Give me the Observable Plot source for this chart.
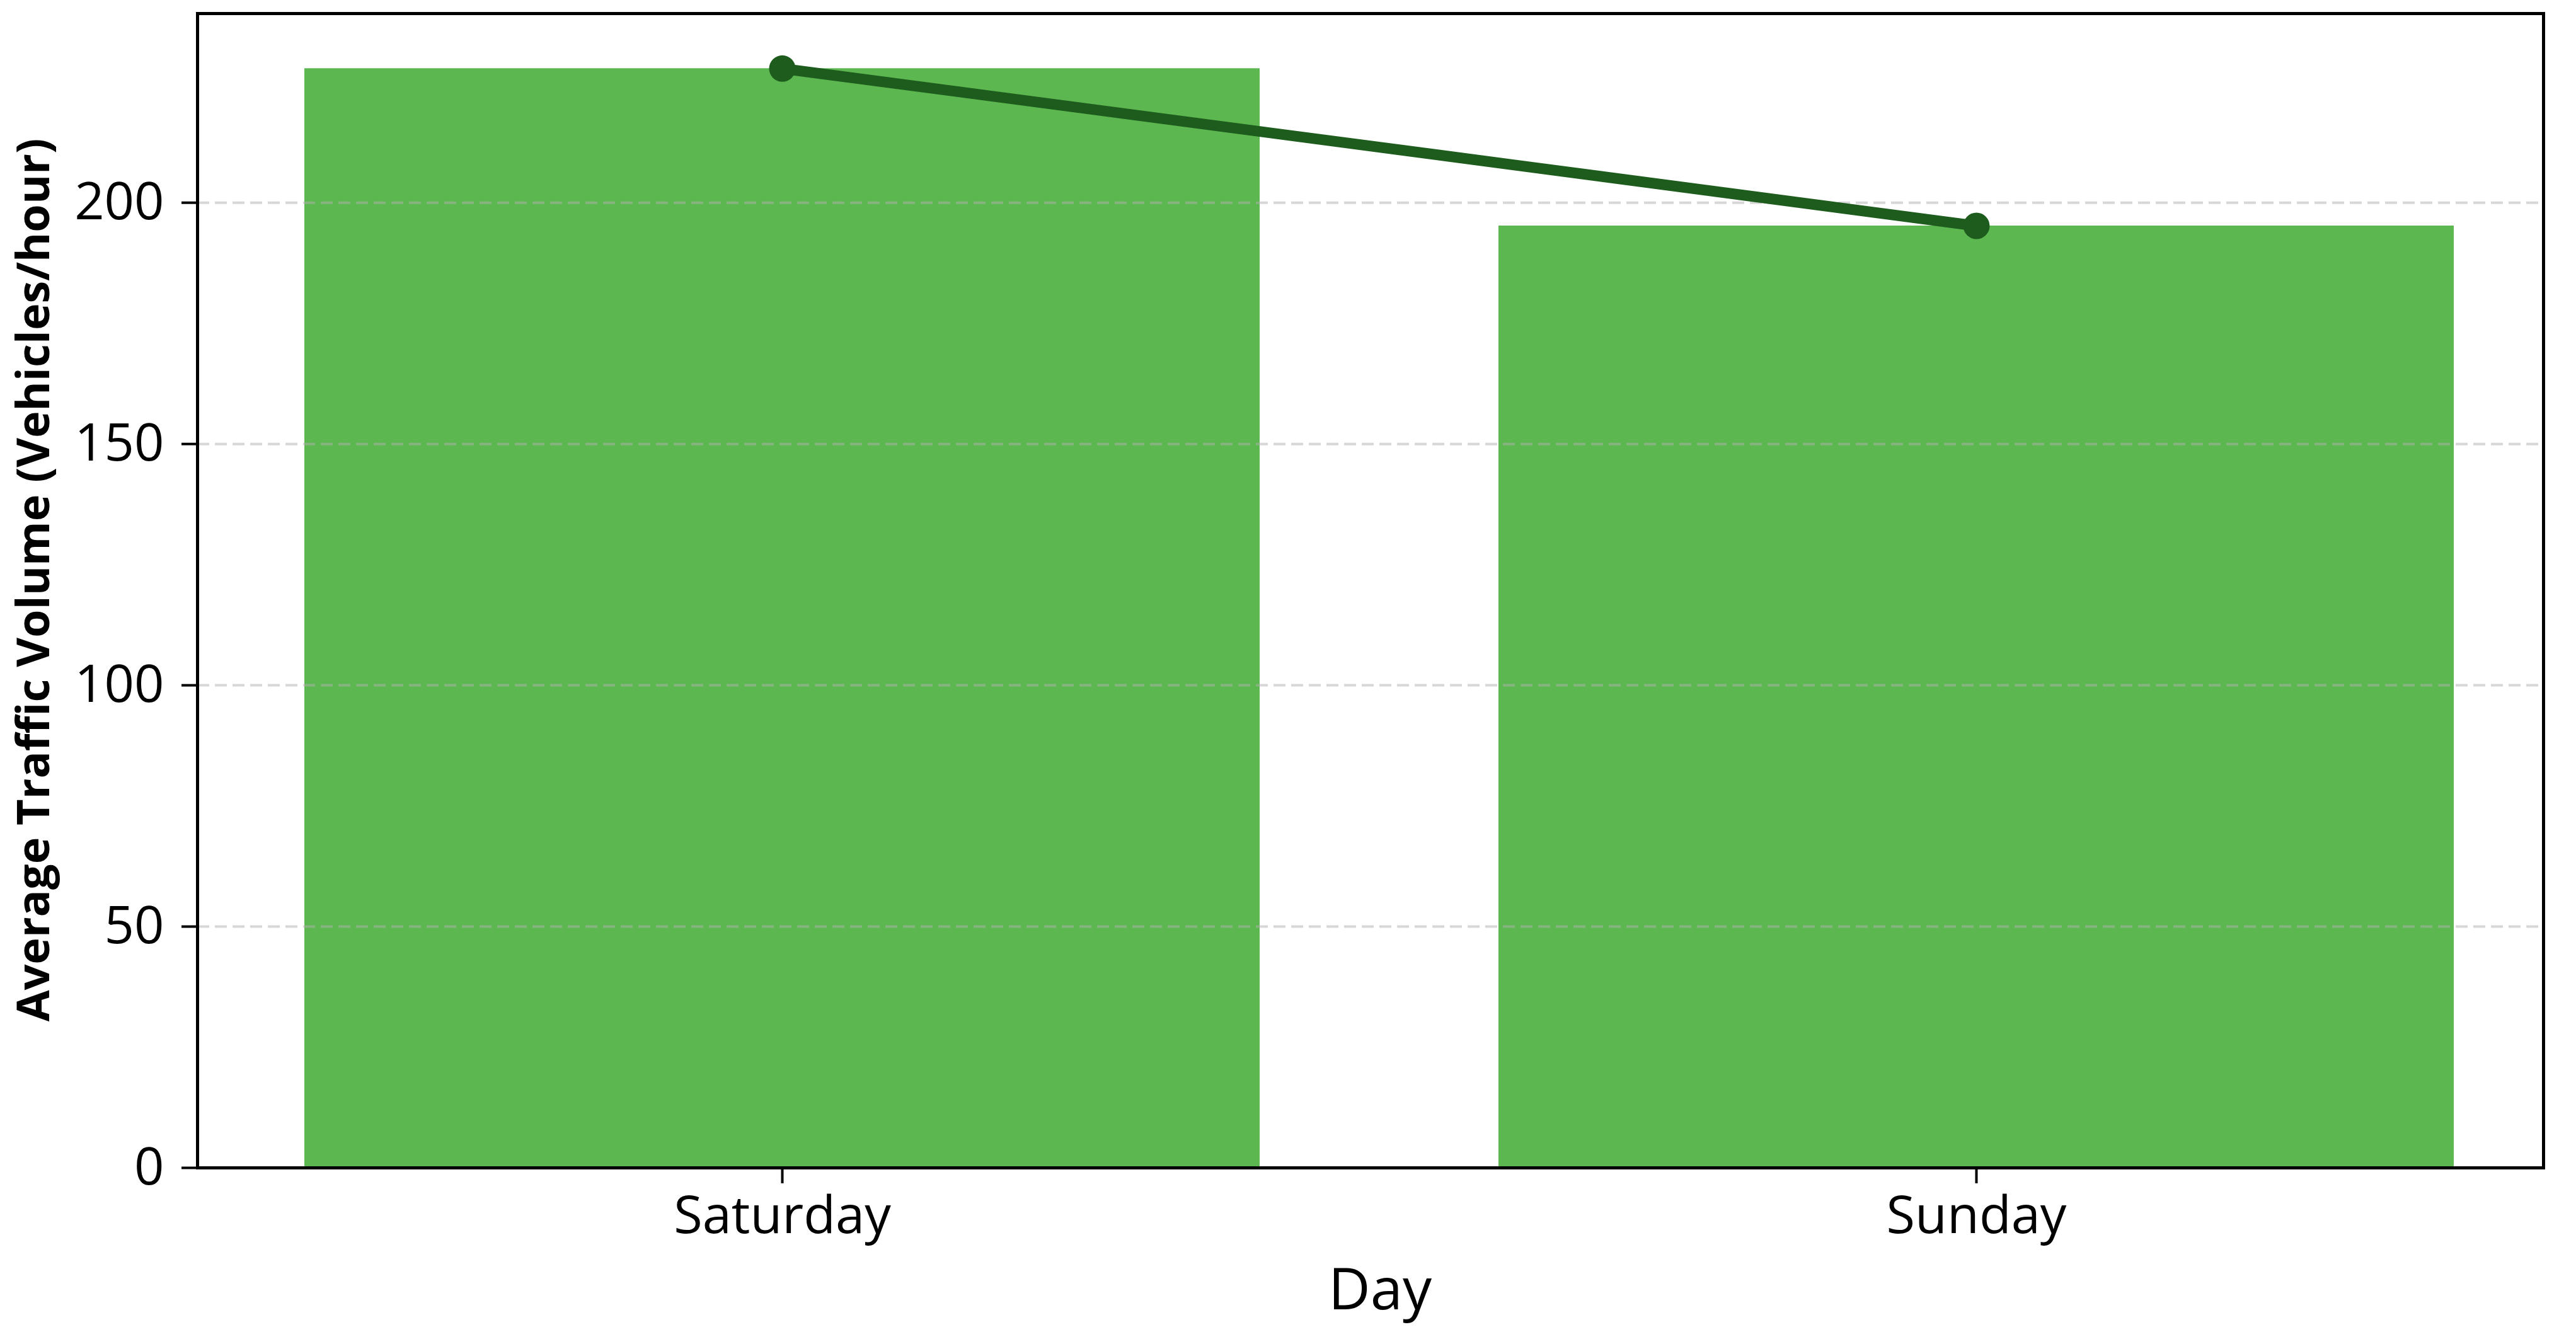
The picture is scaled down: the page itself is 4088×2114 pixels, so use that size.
<!DOCTYPE html>
<html>
<head>
<meta charset="utf-8">
<script src="https://cdn.jsdelivr.net/npm/d3@7"></script>
<script src="https://cdn.jsdelivr.net/npm/@observablehq/plot@0.6"></script>
<style>
  html, body { margin: 0; padding: 0; background: #ffffff; }
  #chart svg { display: block; }
</style>
</head>
<body>
<div id="chart"></div>
<script>
// ---- data ----
const days = ["Saturday", "Sunday"];
const volumes = [227.8, 195.2];
const yTicks = [0, 50, 100, 150, 200];
const gridTicks = [50, 100, 150, 200];
const xLabel = "Day";
const yLabel = "Average Traffic Volume (Vehicles/hour)";
const yMax = 239.2;

const data = days.map((d, i) => ({day: d, volume: volumes[i]}));

const W = 4088, H = 2114;
const mL = 313, mR = 52, mT = 21, mB = 261;
const barColor = "#5cb751";
const lineColor = "#1d5c1d";
const font = "'Open Sans', 'Noto Sans', sans-serif";

const chart = Plot.plot({
  width: W,
  height: H,
  marginLeft: mL,
  marginRight: mR,
  marginTop: mT,
  marginBottom: mB,
  style: {fontFamily: font, background: "#ffffff", color: "#000"},
  x: {domain: days, paddingInner: 0.2, paddingOuter: 0.0823, align: 0.545, label: null},
  y: {domain: [0, yMax], label: null},
  marks: [
    Plot.barY(data, {x: "day", y: "volume", fill: barColor}),
    Plot.gridY(gridTicks, {stroke: "#b0b0b0", strokeOpacity: 0.5, strokeWidth: 4, strokeDasharray: "19,9"}),
    Plot.line(data, {x: "day", y: "volume", stroke: lineColor, strokeWidth: 17}),
    Plot.dot(data, {x: "day", y: "volume", r: 21, fill: lineColor, stroke: "none"}),
    Plot.frame({stroke: "#000", strokeWidth: 5}),
    Plot.axisY({ticks: yTicks, tickSize: 25, tickPadding: 28, fontSize: 83, strokeWidth: 4, label: null}),
    Plot.axisX({tickSize: 25, tickPadding: 20, fontSize: 83, strokeWidth: 4, label: null}),
    Plot.text([xLabel], {frameAnchor: "bottom", dx: 15, dy: 224, lineAnchor: "bottom", textAnchor: "middle", fontSize: 92, fill: "#000"}),
    Plot.text([yLabel], {frameAnchor: "left", dx: -236, dy: -17, rotate: -90, lineAnchor: "bottom", textAnchor: "middle", fontSize: 72, fontWeight: "bold", fill: "#000"})
  ]
});

document.getElementById("chart").appendChild(chart);
</script>
</body>
</html>
